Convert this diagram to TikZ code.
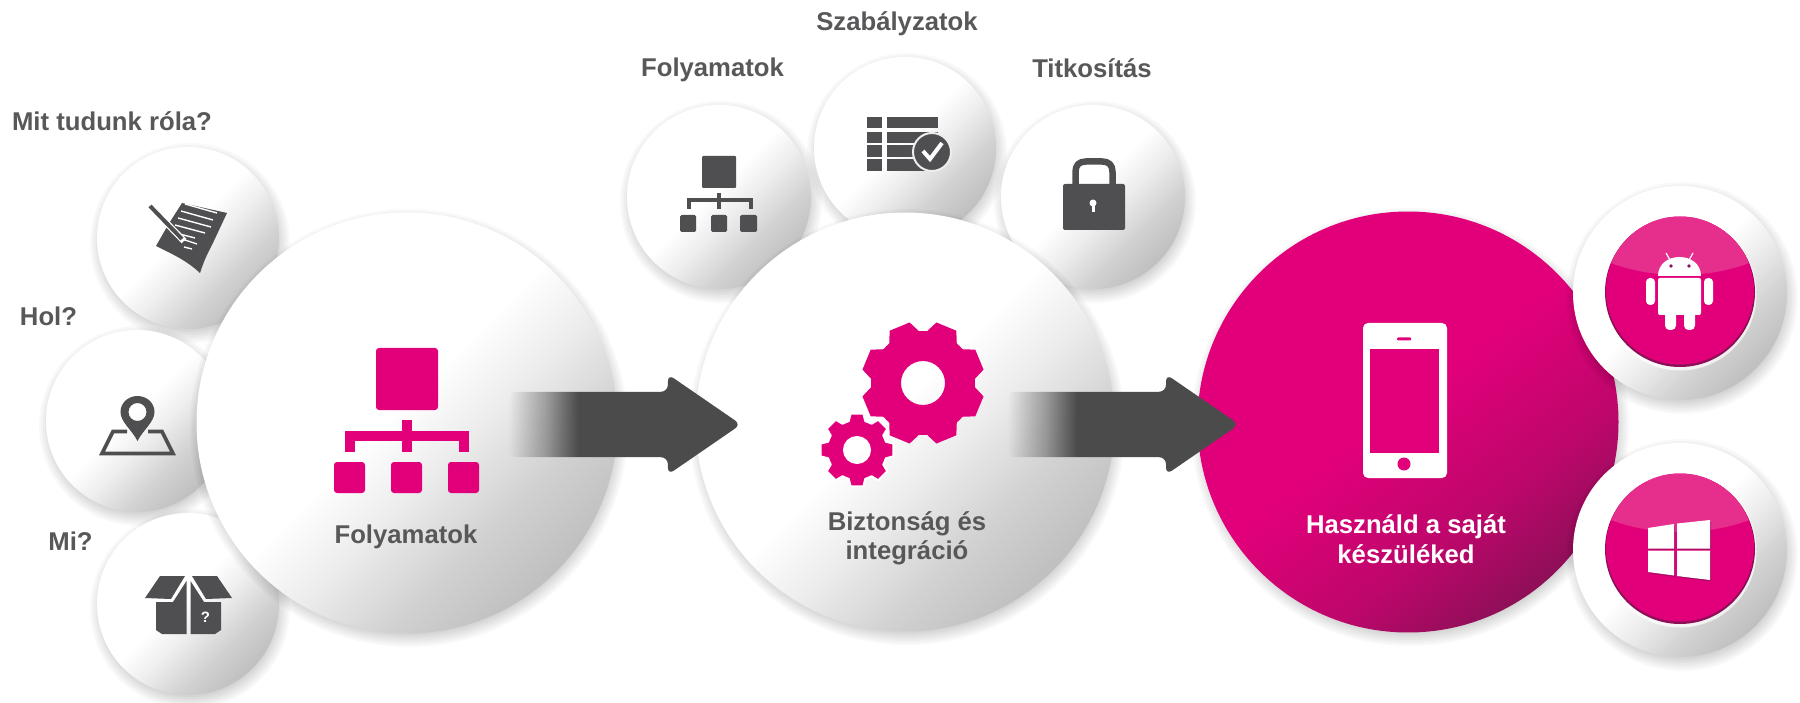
\documentclass[tikz,border=0pt]{standalone}
\usepackage{fontspec}
\setmainfont{Liberation Sans}
\usetikzlibrary{shapes.arrows,fadings}
\definecolor{mag}{HTML}{E2007A}
\definecolor{magl}{HTML}{E62E8C}
\definecolor{magd}{HTML}{8E0F58}
\definecolor{ink}{HTML}{58585A}
\definecolor{icon}{HTML}{4F4F51}
\definecolor{arrowc}{HTML}{4B4B4B}
\pgfdeclareverticalshading{ballw}{100bp}{color(0bp)=(white!75!black); color(25bp)=(white!75!black); color(34bp)=(white!82!black); color(44bp)=(white!93!black); color(52bp)=(white); color(100bp)=(white)}
\pgfdeclareverticalshading{ballm}{100bp}{color(0bp)=(magd); color(25bp)=(magd); color(36bp)=(mag!55!magd); color(52bp)=(mag); color(100bp)=(mag)}
\pgfdeclarehorizontalshading{arrowfadeshade}{100bp}{color(0bp)=(black); color(25bp)=(black); color(33bp)=(black!55!white); color(40bp)=(white); color(100bp)=(white)}
\pgfdeclarefading{arrowfade}{\pgfuseshading{arrowfadeshade}}
\tikzset{
  ball/.style={circle,inner sep=0pt,outer sep=0pt,minimum size=#1,shading=ballw,shading angle=45},
  ballmag/.style={circle,inner sep=0pt,outer sep=0pt,minimum size=#1,shading=ballm,shading angle=38},
  lab/.style={font=\fontsize{25.7}{29.5}\selectfont\bfseries,text=ink,align=center,inner sep=0pt},
  blockarrow/.style={single arrow,anchor=tip,fill=arrowc,path fading=arrowfade,inner xsep=0pt,inner ysep=32.5pt,outer sep=0pt,
    minimum width=100pt,minimum height=#1,single arrow head extend=17.5pt,single arrow head indent=0pt,
    single arrow tip angle=69,rounded corners=7pt},
}
\newcommand\softshadow[3]{\foreach \d in {-2,0,...,12}{\fill[black,opacity=.022] (#1+2,#2+5) circle ({#3+\d-3});}}
\begin{document}
\begin{tikzpicture}[x=1pt,y=-1pt,line join=round]
\useasboundingbox (0,0) rectangle (1800,703);
\fill[white] (0,0) rectangle (1800,703);
% left small balls
\softshadow{188}{238}{91}
\node[ball=182pt] (mit) at (188,238) {};
\softshadow{137}{421}{91}
\node[ball=182pt] (hol) at (137,421) {};
\softshadow{188}{604}{91}
\node[ball=182pt] (mi) at (188,604) {};
% top small balls
\softshadow{905}{148}{91}
\node[ball=182pt] (szab) at (905,148) {};
\softshadow{719}{197}{92}
\node[ball=184pt] (foly2) at (719,197) {};
\softshadow{1093}{197}{92}
\node[ball=184pt] (titk) at (1093,197) {};
% big balls
\softshadow{407}{423}{210}
\node[ball=421pt] (foly) at (407,423) {};
\softshadow{905}{422}{209}
\node[ball=419pt] (bizt) at (905,422) {};
\softshadow{1408}{422}{210}
\node[ballmag=421pt] (haszn) at (1408,422) {};
% right buttons
\softshadow{1680}{293}{107}
\node[ball=214pt] (andr) at (1680,293) {};
\softshadow{1680}{550}{107}
\node[ball=214pt] (win) at (1680,550) {};
\foreach \cy in {292,549}{
  \fill[white,opacity=.7] (1680,\cy+2) circle (76.5);
  \fill[magd] (1680,\cy) circle (75);
  \begin{scope}
    \clip (1680,\cy-1.5) circle (74);
    \fill[mag] (1680,\cy-1.5) circle (74);
    \fill[magl] (1680,\cy-89) ellipse (125 and 72);
  \end{scope}
}
% labels
\node[lab] (lmit) at (112,121) {Mit tudunk róla?};
\node[lab] (lhol) at (48.5,316) {Hol?};
\node[lab] (lmi) at (70.5,541) {Mi?};
\node[lab] (lszab) at (897,24) {Szabályzatok};
\node[lab] (lfoly2) at (712.5,70) {Folyamatok};
\node[lab] (ltitk) at (1092,68) {Titkosítás};
\node[lab] (lfoly) at (406,537) {Folyamatok};
\node[lab] (lbizt) at (907,538.5) {Biztonság és\\integráció};
\node[lab,text=white] (lhaszn) at (1406,539) {Használd a saját\\készüléked};
% pen and paper icon
\fill[icon] (182,203) -- (227,213) -- (212,245) .. controls (206,256) and (203,264) .. (200,273) .. controls (186,260) and (172,254) .. (156,246) -- (168,225) -- cycle;
\foreach \xa/\ya/\xb/\yb in {185/204/217/213, 181/211/213/220, 178/218/211/227, 175/225/205/233, 172/232/195/238, 182/239/197/244, 184/247/192/249}{
  \draw[white,line width=1.4pt] (\xa,\ya) -- (\xb,\yb);
}
\draw[white,line width=6.5pt] (150,206) -- (184,241);
\draw[icon,line width=4pt] (150,206) -- (182,239);
% map icon
\draw[icon,line width=3.6pt,miter limit=3,line join=miter] (127,431.5) -- (113,431.5) -- (102,453.5) -- (173,453.5) -- (162,431.5) -- (148,431.5);
\fill[icon,even odd rule] (137.5,441) .. controls (132,430) and (120.5,422) .. (120.5,412) .. controls (120.5,403) and (128,396) .. (137.5,396) .. controls (147,396) and (154.5,403) .. (154.5,412) .. controls (154.5,422) and (143,430) .. (137.5,441) -- cycle (137.5,412) circle (9);
% box icon
\fill[icon] (145,598) -- (160,576) -- (185,576) -- (171,599) -- cycle;
\fill[icon] (232,598) -- (217,576) -- (192,576) -- (206,599) -- cycle;
\fill[icon] (156,602) -- (173,602) -- (186.5,581) -- (186.5,634) -- (162,634) -- (156,630) -- cycle;
\fill[icon] (221,602) -- (204,602) -- (190.5,581) -- (190.5,634) -- (215,634) -- (221,630) -- cycle;
\node[font=\fontsize{15}{15}\selectfont\bfseries,text=white,inner sep=0pt] (qm) at (205.5,617) {?};
% small hierarchy icon
\fill[icon,rounded corners=1pt] (702,156) rectangle (736,188);
\draw[icon,line width=4pt,line join=miter] (688.5,209) -- (688.5,200.5) -- (750.5,200.5) -- (750.5,209);
\draw[icon,line width=4pt] (719,193) -- (719,209);
\fill[icon,rounded corners=1.5pt] (680,215) rectangle (696,232);
\fill[icon,rounded corners=1.5pt] (711,215) rectangle (727,232);
\fill[icon,rounded corners=1.5pt] (740,215) rectangle (757,232);
% table icon
\foreach \ya/\yb in {117/128,132/143,145/157,159/171}{
  \fill[icon] (867,\ya) rectangle (882,\yb);
  \fill[icon] (887,\ya) rectangle (938,\yb);
}
\fill[icon,draw=white!93!black,line width=2pt] (932,152) circle (19);
\draw[white,line width=4pt,line cap=butt,line join=miter] (923,151) -- (930,159) -- (942,143);
% lock icon
\draw[icon,line width=6.5pt] (1075.5,186) -- (1075.5,172) .. controls (1075.5,165) and (1079,161.5) .. (1086,161.5) -- (1102,161.5) .. controls (1109,161.5) and (1112.5,165) .. (1112.5,172) -- (1112.5,186);
\fill[icon,rounded corners=2pt] (1063,184) rectangle (1125,230);
\fill[white] (1093,203) circle (3.5);
\fill[white] (1091.5,204) rectangle (1094.5,212);
% big hierarchy icon
\fill[mag,rounded corners=3pt] (376,348) rectangle (438,410);
\draw[mag,line width=10pt,line join=miter] (350,452) -- (350,436) -- (464,436) -- (464,452);
\draw[mag,line width=10pt] (407,420) -- (407,452);
\fill[mag,rounded corners=3pt] (334,462) rectangle (365,493);
\fill[mag,rounded corners=3pt] (391,462) rectangle (422,493);
\fill[mag,rounded corners=3pt] (448,462) rectangle (479,493);
% gears
\begin{scope}[shift={(923,383)}]
\fill[mag,even odd rule] (4.5:52) \foreach \a in {22.5,67.5,...,337.5}{ -- (\a-18:52) -- (\a-10:62) -- (\a+10:62) -- (\a+18:52) -- (\a+22.5:52)} -- cycle (0,0) circle (22);
\end{scope}
\begin{scope}[shift={(857,450)}]
\fill[mag,draw=white,line width=2pt,even odd rule] (-18:30) \foreach \a in {0,45,...,315}{ -- (\a-16:30) -- (\a-10:37) -- (\a+10:37) -- (\a+16:30) -- (\a+22.5:30)} -- cycle (0,0) circle (13);
\end{scope}
% phone icon
\fill[white,rounded corners=5pt] (1363,323) rectangle (1447,478);
\fill[mag] (1370,349) rectangle (1439,453);
\fill[mag,rounded corners=1pt] (1397,337.5) rectangle (1411,340.5);
\fill[mag] (1404,464) circle (6.5);
% android icon
\fill[white] (1658,276) .. controls (1658,264) and (1668,257) .. (1679.5,257) .. controls (1691,257) and (1701,264) .. (1701,276) -- cycle;
\draw[white,line width=1.2pt] (1670,260) -- (1666,253);
\draw[white,line width=1.2pt] (1689,260) -- (1693,253);
\fill[magd] (1671,266) circle (1.8);
\fill[magd] (1689,266) circle (1.8);
\fill[white,rounded corners=2pt] (1658,278) rectangle (1701,315);
\fill[white,rounded corners=4pt] (1646,278) rectangle (1655,305);
\fill[white,rounded corners=4pt] (1704,278) rectangle (1713,305);
\fill[white,rounded corners=4.5pt] (1665,305) rectangle (1676,330);
\fill[white,rounded corners=4.5pt] (1684,305) rectangle (1695,330);
% windows icon
\fill[magd,opacity=.6] (1649,529.5) -- (1675,525.5) -- (1675,550) -- (1649,550) -- cycle (1678,525) -- (1711,521.5) -- (1711,550) -- (1678,550) -- cycle (1649,552) -- (1675,552) -- (1675,577) -- (1649,573.5) -- cycle (1678,552) -- (1711,552) -- (1711,581.5) -- (1678,577.5) -- cycle;
\fill[white] (1648,528) -- (1674,524) -- (1674,548.5) -- (1648,548.5) -- cycle (1677,523.5) -- (1710,520) -- (1710,548.5) -- (1677,548.5) -- cycle (1648,550.5) -- (1674,550.5) -- (1674,575.5) -- (1648,572) -- cycle (1677,550.5) -- (1710,550.5) -- (1710,580) -- (1677,576) -- cycle;
% arrows
\node[blockarrow=232pt] (arrowA) at (741,424.5) {};
\node[blockarrow=231pt] (arrowB) at (1239,424.5) {};
\end{tikzpicture}
\end{document}
